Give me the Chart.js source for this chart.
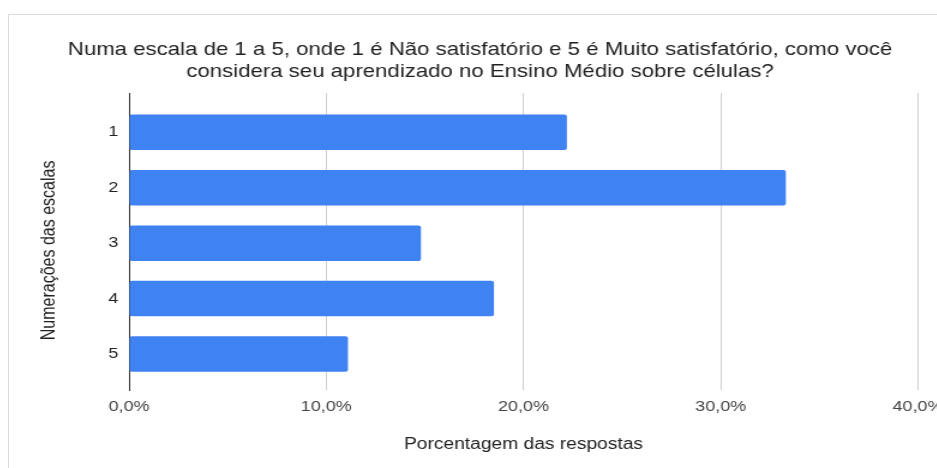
<!DOCTYPE html>
<html>
<head>
<meta charset="utf-8">
<script src="https://cdn.jsdelivr.net/npm/chart.js@4/dist/chart.umd.min.js"></script>
<style>
  html, body { margin: 0; padding: 0; width: 937px; height: 468px; overflow: hidden; background: #fff; }
  #frame { position: absolute; left: 8px; top: 14px; width: 940px; height: 460px;
           border-top: 1px solid #dcdcdc; border-left: 1px solid #dcdcdc; }
  #wrap { position: absolute; left: 9px; top: 15px; transform: scaleX(1.2); transform-origin: 0 0; }
  #chart { display: block; width: 785px; height: 453px; }
</style>
</head>
<body>
<div id="frame"></div>
<div id="wrap"><canvas id="chart" width="785" height="453"></canvas></div>
<script>
// Scale steps (1 = Não satisfatório, 5 = Muito satisfatório)
const categories = ['1', '2', '3', '4', '5'];
// Share of answers for each step, in percent
const percentages = [22.2, 33.3, 14.8, 18.5, 11.1];
// Percent ticks on the horizontal axis
const percentTicks = [0, 10, 20, 30, 40];

const titleLines = [
  'Numa escala de 1 a 5, onde 1 é Não satisfatório e 5 é Muito satisfatório, como você',
  'considera seu aprendizado no Ensino Médio sobre células?'
];
const FONT = '"Liberation Sans", Arial, Helvetica, sans-serif';

const points = categories.map((c, i) => ({ x: percentages[i], y: i + 1 }));

new Chart(document.getElementById('chart'), {
  type: 'bar',
  data: {
    datasets: [{
      data: points,
      backgroundColor: '#3f82f2',
      borderWidth: 0,
      borderRadius: 2,
      borderSkipped: false,
      barPercentage: 0.8,
      categoryPercentage: 0.8
    }]
  },
  options: {
    indexAxis: 'y',
    responsive: false,
    animation: false,
    devicePixelRatio: 1,
    layout: { padding: 0 },
    plugins: {
      legend: { display: false },
      tooltip: { enabled: false },
      title: {
        display: true,
        text: titleLines,
        color: '#222',
        font: { family: FONT, size: 18.5, weight: 'normal', lineHeight: 22 / 18.5 },
        padding: { top: 24, bottom: 10 }
      }
    },
    scales: {
      x: {
        type: 'linear',
        position: 'bottom',
        min: percentTicks[0],
        max: percentTicks[percentTicks.length - 1],
        afterBuildTicks: (s) => { s.ticks = percentTicks.map(v => ({ value: v })); },
        afterFit: (s) => { s.height = 78; s.paddingLeft = 0; s.paddingRight = 27.5; },
        grid: { color: '#cfcfcf', lineWidth: 1, drawTicks: false },
        border: { display: false },
        ticks: {
          color: '#444',
          padding: 8,
          font: { family: FONT, size: 15 },
          callback: (v) => v.toFixed(1).replace('.', ',') + '%'
        },
        title: {
          display: true,
          text: 'Porcentagem das respostas',
          color: '#222',
          font: { family: FONT, size: 16 },
          padding: { top: 0, bottom: 14 }
        }
      },
      y: {
        type: 'linear',
        position: 'left',
        reverse: true,
        offset: false,
        min: 0.29,
        max: 5.65,
        afterBuildTicks: (s) => { s.ticks = categories.map((c, i) => ({ value: i + 1 })); },
        afterFit: (s) => { s.width = 100; s.paddingTop = 0; s.paddingBottom = 0; },
        grid: { display: false, drawTicks: false },
        border: { display: true, color: '#333', width: 1 },
        ticks: {
          color: '#222',
          padding: 9,
          font: { family: FONT, size: 15 },
          callback: (v) => categories[v - 1]
        },
        title: {
          display: true,
          // trailing spaces nudge the rotated title a little lower
          text: 'Numerações das escalas    ',
          color: '#222',
          font: { family: FONT, size: 16 },
          padding: { top: 24, bottom: 0 }
        }
      }
    }
  }
});
</script>
</body>
</html>
